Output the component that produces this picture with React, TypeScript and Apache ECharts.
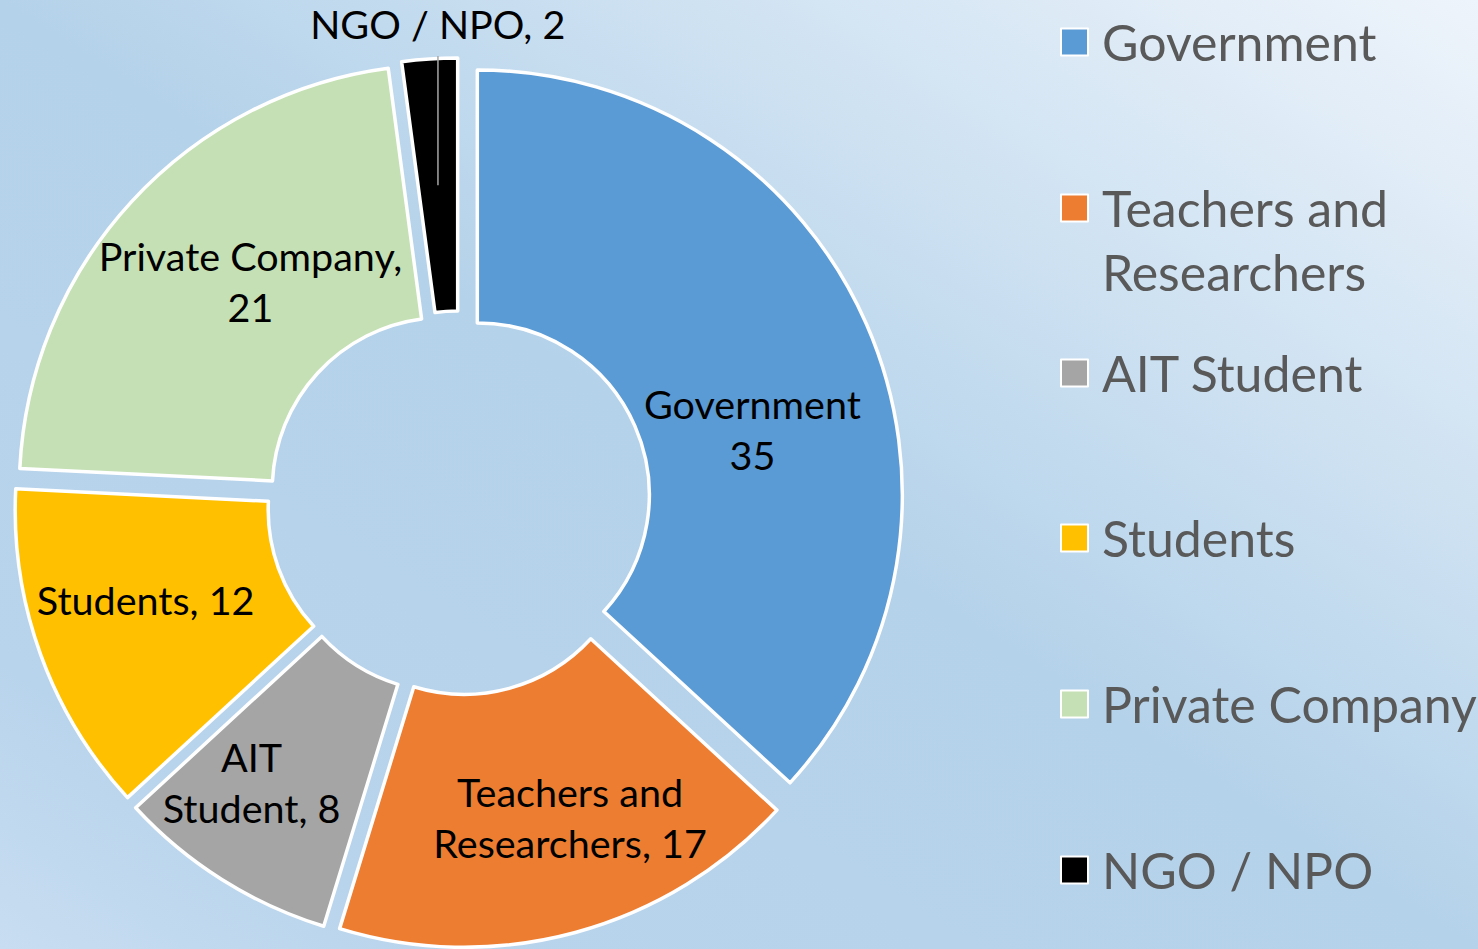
import React, { useEffect, useRef } from "react";
import * as echarts from "echarts";

const categories = [
  "Government",
  "Teachers and Researchers",
  "AIT Student",
  "Students",
  "Private Company",
  "NGO / NPO",
];
const values = [35, 17, 8, 12, 21, 2];
const colors = ["#5B9BD5", "#ED7D31", "#A5A5A5", "#FFC000", "#C5E0B4", "#000000"];

// layout constants
const W = 1478;
const H = 949;
const CX = 459;
const CY = 503;
const R0 = 172;
const R1 = 425;
const OFFSET = 20;
const LABEL_FONT = 39.5;
const LEGEND_FONT = 50;
const LEGEND_LH = 64;
const labelNudge = [
  [-1, 55],
  [27, 4],
  [-36, 7],
  [-11, -13],
  [28, -4],
  [0, -159],
];
const legendCenters = [42, 208, 373, 538, 704, 870];

function labelText(i: number, name: string, v: number): string {
  switch (i) {
    case 0:
      return `${name}\n${v}`;
    case 1:
      return `${name.replace(" Researchers", "\nResearchers")}, ${v}`;
    case 2:
      return `${name.replace(" ", "\n")}, ${v}`;
    case 4:
      return `${name},\n${v}`;
    default:
      return `${name}, ${v}`;
  }
}

export default function App() {
  const ref = useRef<HTMLDivElement>(null);
  useEffect(() => {
    document.body.style.margin = "0";
    const chart = echarts.init(ref.current!, undefined, { renderer: "svg" });
    const total = values.reduce((a, b) => a + b, 0);
    const before = values.slice(0, 5).reduce((a, b) => a + b, 0);
    const theta = ((before + values[5] / 2) / total) * 2 * Math.PI;
    const ngoCx = CX + OFFSET * Math.sin(theta);
    const ngoCy = CY - OFFSET * Math.cos(theta);
    const midR = (R0 + R1) / 2;
    const lineX = ngoCx + midR * Math.sin(theta);
    const lineY = ngoCy - midR * Math.cos(theta);
    const ngoTop = ngoCy - R1;

    const data = categories.map((name, i) => ({
      name,
      value: values[i],
      selected: true,
      itemStyle: { color: colors[i] },
    }));

    const legends = categories.map((name, i) => {
      const twoLine = i === 1;
      const top = twoLine
        ? legendCenters[i] - (LEGEND_LH * 3) / 2
        : legendCenters[i] - LEGEND_LH / 2;
      return {
        data: [name],
        orient: "vertical",
        left: 1060,
        top,
        padding: 0,
        itemWidth: 27,
        itemHeight: 27,
        itemGap: 0,
        icon: "rect",
        selectedMode: false,
        formatter: (n: string) =>
          n === "Teachers and Researchers" ? "\nTeachers and\nResearchers" : n,
        textStyle: {
          fontFamily: "Lato",
          fontSize: LEGEND_FONT,
          lineHeight: LEGEND_LH,
          color: "#595959",
          padding: [0, 0, 0, 9],
        },
      };
    });

    chart.setOption({
      animation: false,
      backgroundColor: {
        type: "linear",
        x: 1,
        y: 0,
        x2: 0,
        y2: 1,
        colorStops: [
          { offset: 0, color: "#eef4fb" },
          { offset: 0.18, color: "#d9e8f5" },
          { offset: 0.5, color: "#b4d2ea" },
          { offset: 0.85, color: "#b8d4ec" },
          { offset: 1, color: "#c8ddf1" },
        ],
      },
      legend: legends,
      graphic: [
        {
          type: "line",
          z: 100,
          silent: true,
          shape: { x1: lineX, y1: lineY, x2: lineX, y2: ngoTop - 2 },
          style: { stroke: "#a6a6a6", lineWidth: 1.5 },
        },
      ],
      series: [
        {
          type: "pie",
          center: [CX, CY],
          radius: [R0, R1],
          startAngle: 90,
          clockwise: true,
          selectedMode: "multiple",
          selectedOffset: OFFSET,
          avoidLabelOverlap: false,
          itemStyle: { borderColor: "#ffffff", borderWidth: 3.5 },
          emphasis: { disabled: true },
          select: { itemStyle: { borderColor: "#ffffff", borderWidth: 3.5 } },
          label: {
            show: true,
            position: "inside",
            fontFamily: "Lato",
            fontSize: LABEL_FONT,
            lineHeight: 51,
            color: "#000000",
            align: "center",
            formatter: (p: any) => labelText(p.dataIndex, p.name, p.value),
          },
          labelLine: { show: false },
          labelLayout: (p: any) => {
            const n = labelNudge[p.dataIndex];
            return { dx: n[0], dy: n[1] };
          },
          data,
        },
      ],
    });
    return () => chart.dispose();
  }, []);
  return <div ref={ref} style={{ width: W, height: H }} />;
}
